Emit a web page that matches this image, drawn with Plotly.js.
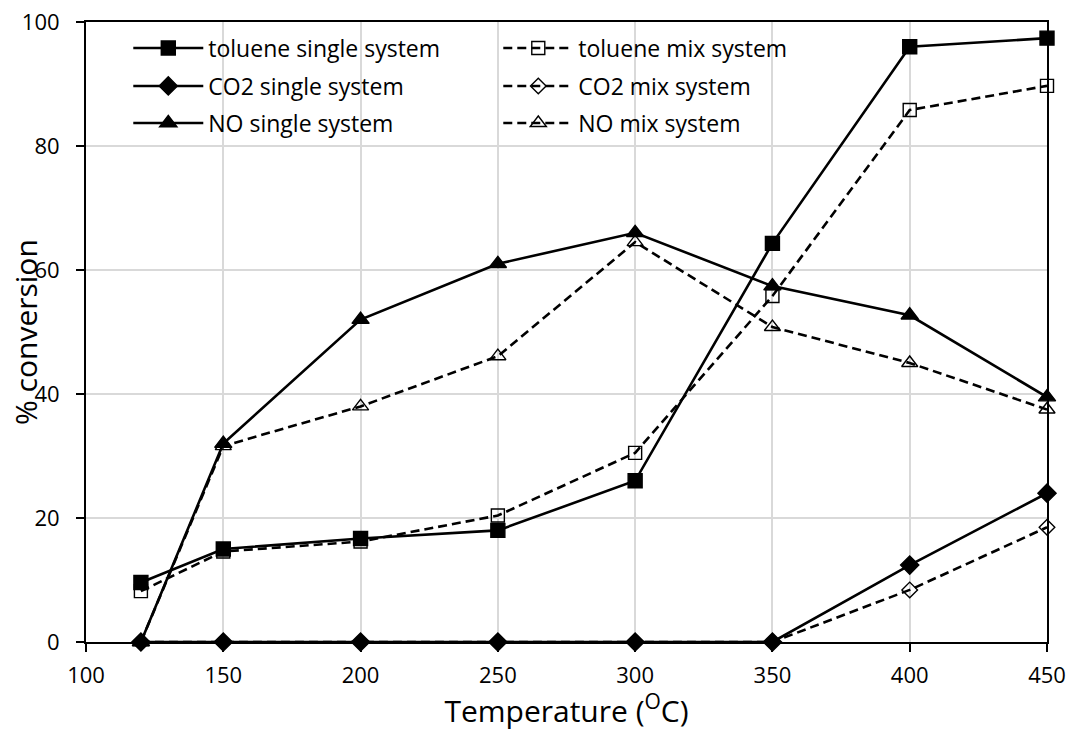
<!DOCTYPE html>
<html><head><meta charset="utf-8">
<script src="https://cdn.plot.ly/plotly-3.0.1.min.js"></script>
<style>html,body{margin:0;padding:0;background:#fff}#chart{width:1075px;height:731px}</style>
</head><body><div id="chart"></div>
<script>
const temperature = [120, 150, 200, 250, 300, 350, 400, 450];
const tolueneSingle = [9.6, 15.0, 16.7, 18.0, 26.0, 64.3, 96.0, 97.4];
const tolueneMix = [8.2, 14.6, 16.2, 20.4, 30.5, 55.8, 85.8, 89.7];
const co2Single = [0, 0, 0, 0, 0, 0, 12.4, 24.0];
const co2Mix = [0, 0, 0, 0, 0, 0, 8.4, 18.5];
const noSingle = [0, 32.0, 52.0, 61.0, 66.0, 57.4, 52.7, 39.5];
const noMix = [0, 31.6, 38.0, 46.1, 64.5, 50.8, 45.0, 37.5];
const seriesNames = ["toluene single system", "toluene mix system", "CO2 single system", "CO2 mix system", "NO single system", "NO mix system"];
const xTitle = 'Temperature (<sup>O</sup>C)';
const yTitle = '% conversion';

function tr(name, y, symbol, dashed, size, legend) {
  return {
    x: temperature, y: y, name: name, type: 'scatter', mode: 'lines+markers', legend: legend,
    line: {color: '#000', width: 2.6, dash: dashed ? '9px,5px' : 'solid'},
    marker: {symbol: symbol, size: size, color: '#000', line: {color: '#000', width: 1.4}},
    cliponaxis: false
  };
}
const data = [
  tr(seriesNames[0], tolueneSingle, 'square', false, 14, 'legend'),
  tr(seriesNames[1], tolueneMix, 'square-open', true, 13, 'legend'),
  tr(seriesNames[2], co2Single, 'diamond', false, 14, 'legend2'),
  tr(seriesNames[3], co2Mix, 'diamond-open', true, 12, 'legend2'),
  tr(seriesNames[4], noSingle, 'triangle-up', false, 15, 'legend3'),
  tr(seriesNames[5], noMix, 'triangle-up-open', true, 14, 'legend3')
];
const fam = '"Open Sans", "Noto Sans", sans-serif';
const font = {family: fam, color: '#000'};
const plotTop = 22, plotBottom = 642, plotH = plotBottom - plotTop;
function leg(rowY) {
  return {orientation: 'h', x: 0.044, y: 1 - (rowY - plotTop) / plotH, xanchor: 'left', yanchor: 'middle',
    entrywidth: 285, entrywidthmode: 'pixels', bgcolor: 'rgba(0,0,0,0)', borderwidth: 0,
    font: {size: 23, family: fam, color: '#000'}, itemwidth: 70, traceorder: 'normal'};
}
const layout = {
  width: 1075, height: 731,
  margin: {l: 86, r: 28, t: 22, b: 89},
  paper_bgcolor: '#fff', plot_bgcolor: '#fff',
  font: font,
  showlegend: true,
  legend: leg(48), legend2: leg(86), legend3: leg(123),
  xaxis: {range: [100, 450], dtick: 50, tick0: 100, showgrid: true, gridcolor: '#d9d9d9', gridwidth: 2,
    showline: true, linecolor: '#000', linewidth: 2, mirror: true, ticks: 'outside', ticklen: 8, tickcolor: '#000', tickwidth: 2,
    zeroline: false, tickfont: {size: 22}, ticklabelstandoff: 5,
    title: {text: xTitle, font: {size: 30}, standoff: 10}},
  yaxis: {range: [0, 100], dtick: 20, showgrid: true, gridcolor: '#d9d9d9', gridwidth: 2,
    showline: true, linecolor: '#000', linewidth: 2, mirror: true, ticks: 'outside', ticklen: 8, tickcolor: '#000', tickwidth: 2,
    zeroline: false, tickfont: {size: 22}, ticklabelstandoff: 12},
  annotations: [{text: yTitle, xref: 'paper', yref: 'paper', x: (25 - 86) / 961, y: 0.5,
    xanchor: 'center', yanchor: 'middle', textangle: -90, showarrow: false, font: {size: 30, family: fam, color: '#000'}}]
};
Plotly.newPlot('chart', data, layout, {displayModeBar: false, staticPlot: true});
</script></body></html>
